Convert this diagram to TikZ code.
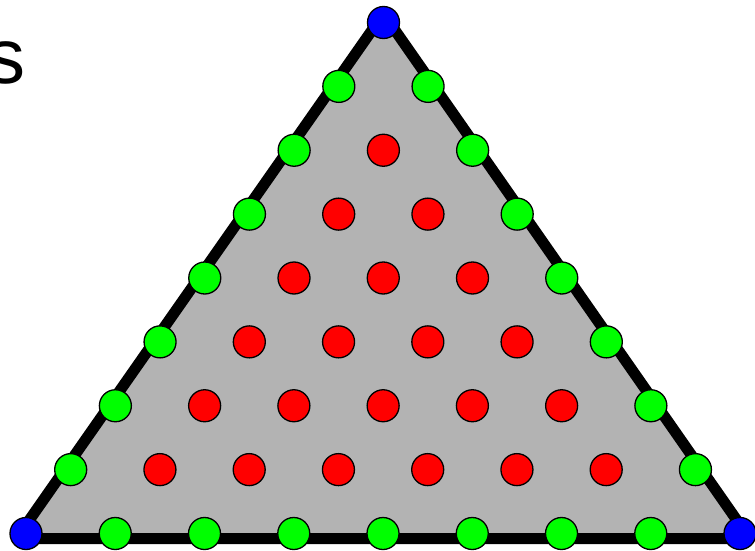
\documentclass[tikz,border=0pt]{standalone}
\usepackage{fontspec}
\setmainfont{Liberation Sans}
\definecolor{facegray}{RGB}{179,179,179}

\begin{document}
\begin{tikzpicture}[
        x=1pt, y=-1pt,
        dot/.style={circle, draw=black, line width=1.3pt, minimum size=32pt, inner sep=0pt},
        vertexdot/.style={dot, fill=blue},
        edgedot/.style={dot, fill=green},
        innerdot/.style={dot, fill=red},
        outline/.style={line width=11pt, line join=round, fill=facegray}
    ]
        \useasboundingbox (0,0) rectangle (755,551);

        % --- Label (cut at the left border) ---
        \node[anchor=base east, inner sep=0pt, font=\fontsize{78}{80}\selectfont] (label) at (26,84) {s};

        % --- Outline of the element ---
        \coordinate (outA) at (16.4,538.5);
        \coordinate (outB) at (749.6,538.5);
        \coordinate (outC) at (383.5,13.8);
        \draw[outline] (outA) -- (outB) -- (outC) -- cycle;

        % --- Lattice points, order 8 ---
        \foreach \i in {0,...,8} {
            \pgfmathtruncatemacro{\jmax}{8-\i}
            \foreach \j in {0,...,\jmax} {
                \pgfmathtruncatemacro{\k}{8-\i-\j}
                \pgfmathtruncatemacro{\nz}{(\i==0)+(\j==0)+(\k==0)}
                \pgfmathsetmacro{\px}{26+\i*89.25+\j*44.6875}
                \pgfmathsetmacro{\py}{533.5-\j*63.875}
                \ifnum\nz=0 \def\dotstyle{innerdot}\else
                    \ifnum\nz=1 \def\dotstyle{edgedot}\else \def\dotstyle{vertexdot}\fi
                \fi
                \node[\dotstyle] (p-\i-\j) at (\px,\py) {};
            }
        }
    \end{tikzpicture}
\end{document}
